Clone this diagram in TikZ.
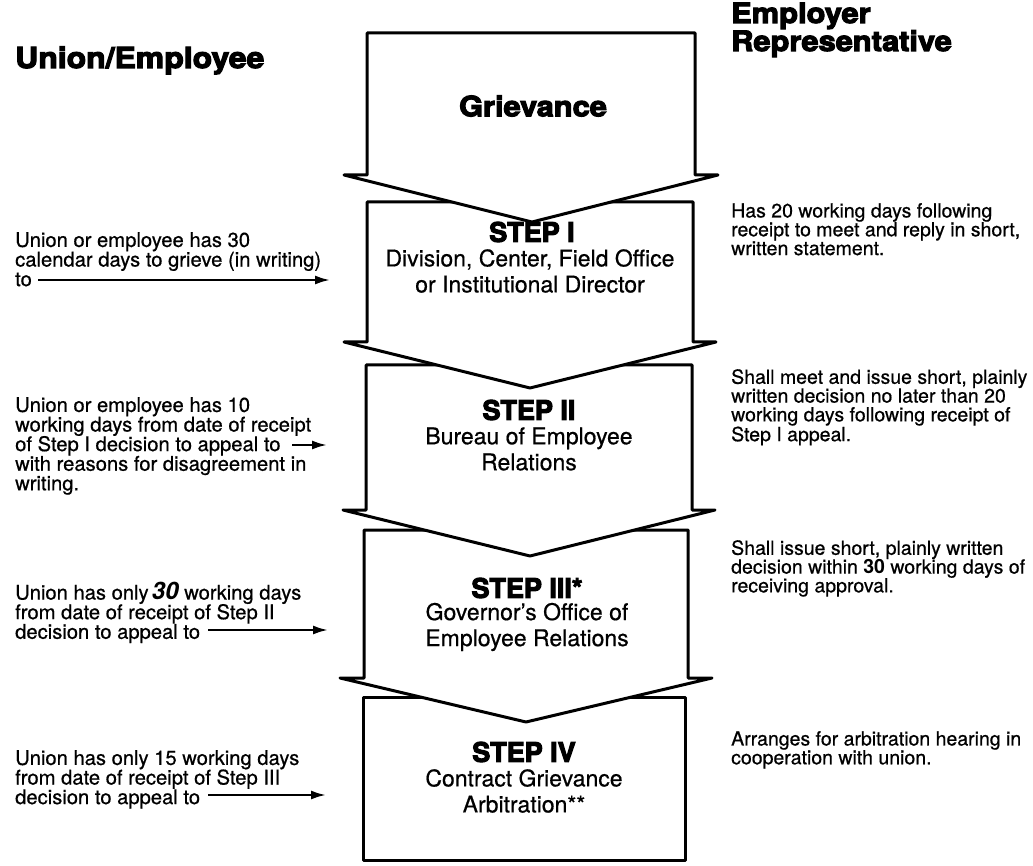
\documentclass[tikz,border=0pt]{standalone}
\usepackage{fontspec}
\setmainfont{TeX Gyre Heros}[UprightFeatures={FakeBold=0.6}]
\newfontfamily\heavyfam{TeX Gyre Heros}[BoldFeatures={FakeBold=4}]
\newfontfamily\heavywide{TeX Gyre Heros}[BoldFeatures={FakeBold=4,FakeStretch=1.1}]
\usetikzlibrary{arrows.meta}
\tikzset{
  stepbox/.style={draw=black, fill=white, line width=3pt, line join=round},
  lefttext/.style={anchor=north west, align=left, inner sep=0pt,
    font=\fontsize{20.2}{19.6}\selectfont},
  righttext/.style={anchor=north west, align=left, inner sep=0pt,
    font=\fontsize{19.5}{18.8}\selectfont},
  boxtext/.style={align=center, inner sep=0pt, font=\fontsize{23}{26}\selectfont},
  steptitle/.style={inner sep=0pt, font=\heavyfam\bfseries\fontsize{27}{28}\selectfont},
  grvtitle/.style={inner sep=0pt, font=\heavywide\bfseries\fontsize{28}{28}\selectfont},
  heading/.style={inner sep=0pt, anchor=base west, font=\heavywide\bfseries\fontsize{29}{29}\selectfont},
  headingr/.style={heading, font=\heavywide\bfseries\fontsize{28}{28}\selectfont},
  sidearrow/.style={line width=2.3pt, -{Latex[length=15pt,width=9pt]}},
}
\begin{document}
\begin{tikzpicture}[x=1pt,y=-1pt]
\useasboundingbox[fill=white] (0,0) rectangle (1033,866);

% boxes, drawn from the bottom up so each chevron overlaps the next box
\draw[stepbox] (363,697) -- (685,697) -- (685,860) -- (363,860) -- cycle;
\draw[stepbox] (364,530) -- (688,530) -- (688,678) -- (712,678) -- (526,722)
  -- (340,678) -- (364,678) -- cycle;
\draw[stepbox] (366,365) -- (692,365) -- (692,510) -- (715,510) -- (530,556)
  -- (343,510) -- (366,510) -- cycle;
\draw[stepbox] (367,202) -- (693,202) -- (693,342) -- (716,342) -- (530,388)
  -- (344,342) -- (367,342) -- cycle;
\draw[stepbox] (367,33) -- (695,33) -- (695,175) -- (718,175) -- (532,222)
  -- (344,175) -- (367,175) -- cycle;

% texts inside boxes
\node[grvtitle] (grv) at (533,106) {Grievance};
\node[steptitle] (s1) at (532,232) {STEP I};
\node[boxtext] (s1b) at (530,271) {Division, Center, Field Office\\or Institutional Director};
\node[steptitle] (s2) at (529,410) {STEP II};
\node[boxtext] (s2b) at (529,449) {Bureau of Employee\\Relations};
\node[steptitle] (s3) at (527,588) {STEP III*};
\node[boxtext] (s3b) at (527,627) {Governor's Office of\\Employee Relations};
\node[steptitle] (s4) at (524,752) {STEP IV};
\node[boxtext] (s4b) at (524,791) {Contract Grievance\\Arbitration**};

% headings
\node[heading] (hu) at (15,68) {Union/Employee};
\node[headingr] (he1) at (731,23) {Employer};
\node[headingr] (he2) at (731,51) {Representative};

% left texts
\node[lefttext] (l1) at (15,232) {Union or employee has 30\\calendar days to grieve (in writing)\\to};
\node[lefttext] (l2) at (15,397) {Union or employee has 10\\working days from date of receipt\\of Step I decision to appeal to\\with reasons for disagreement in\\writing.};
\node[lefttext] (l3) at (15,582) {Union has only\,{\bfseries\itshape\fontsize{24}{19}\selectfont 30} working days\\from date of receipt of Step II\\decision to appeal to};
\node[lefttext] (l4) at (15,750) {Union has only 15 working days\\from date of receipt of Step III\\decision to appeal to};

% right texts
\node[righttext] (r1) at (731,203) {Has 20 working days following\\receipt to meet and reply in short,\\written statement.};
\node[righttext] (r2) at (731,369) {Shall meet and issue short, plainly\\written decision no later than 20\\working days following receipt of\\Step I appeal.};
\node[righttext] (r3) at (731,540) {Shall issue short, plainly written\\decision within {\bfseries 30} working days of\\receiving approval.};
\node[righttext] (r4) at (731,731) {Arranges for arbitration hearing in\\cooperation with union.};

% arrows
\coordinate (a1s) at (38,280);  \coordinate (a1e) at (330,280);
\coordinate (a2s) at (292,445); \coordinate (a2e) at (327,445);
\coordinate (a3s) at (208,630); \coordinate (a3e) at (328,630);
\coordinate (a4s) at (208,795); \coordinate (a4e) at (326,795);
\draw[sidearrow] (a1s) -- (a1e);
\draw[sidearrow] (a2s) -- (a2e);
\draw[sidearrow] (a3s) -- (a3e);
\draw[sidearrow] (a4s) -- (a4e);
\end{tikzpicture}
\end{document}
